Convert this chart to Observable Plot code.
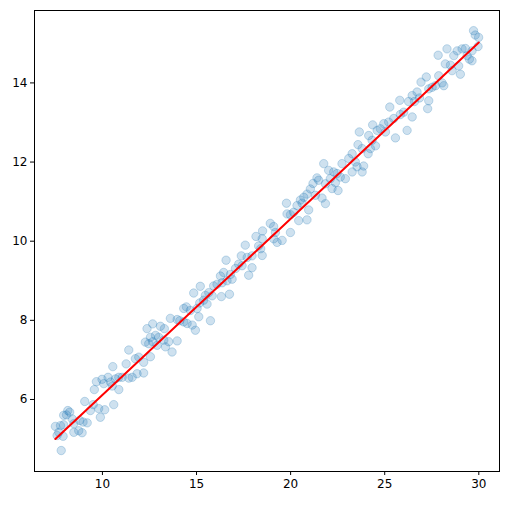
<!DOCTYPE html>
<html>
<head>
<meta charset="utf-8">
<script src="https://cdn.jsdelivr.net/npm/d3@7"></script>
<script src="https://cdn.jsdelivr.net/npm/@observablehq/plot@0.6"></script>
<style>
  html, body { margin: 0; padding: 0; background: #fff; }
  #chart svg { display: block; }
</style>
</head>
<body>
<div id="chart"></div>
<script>
// Scatter points (x values and matching y values)
const xValues = [
  9.68,9.57,9.06,9.51,9.36,9.80,8.16,8.26,8.09,7.94,8.39,7.50,7.77,7.94,8.48,8.79,8.97,9.19,7.68,7.59,7.91,8.48,8.74,8.92,7.81,
  12.37,12.67,12.55,12.28,12.46,12.67,11.40,11.93,11.75,12.19,11.26,10.55,12.19,11.84,11.58,11.40,11.05,10.87,10.69,10.30,9.98,10.07,10.43,10.52,10.87,10.60,10.12,9.89,
  15.20,14.85,15.47,15.38,15.17,14.46,14.32,15.03,14.67,15.12,13.61,13.97,14.11,14.32,14.50,14.77,14.94,13.08,13.29,12.82,12.99,13.26,13.52,13.97,12.91,13.35,13.70,12.55,
  18.16,18.51,17.59,18.30,17.38,17.69,17.95,16.57,17.24,17.42,17.07,17.95,17.77,16.44,16.27,16.80,16.89,16.62,16.36,16.09,15.91,15.65,15.83,16.32,16.75,15.56,15.74,
  21.40,21.19,21.05,20.87,20.70,20.52,19.78,20.61,20.34,20.96,20.16,19.81,19.99,20.43,20.87,18.92,19.10,19.19,19.99,18.49,19.10,19.28,19.55,18.41,18.49,
  24.36,23.65,24.15,23.58,23.80,24.12,23.27,23.09,22.73,23.44,23.53,23.88,23.80,23.27,21.76,22.02,22.29,22.47,21.49,22.11,22.64,22.91,22.38,21.85,22.20,22.52,21.32,21.67,21.85,
  27.21,26.93,27.34,26.72,26.46,26.85,26.58,26.27,25.80,25.27,27.28,26.01,25.83,26.46,25.48,25.21,24.95,24.77,24.60,25.04,26.19,25.57,24.33,24.51,24.24,
  29.72,29.81,29.99,29.96,27.84,28.31,28.85,29.11,29.29,29.64,29.50,29.64,29.38,28.67,28.22,28.49,28.93,28.58,29.02,27.87,28.05,27.70,27.52,28.14,27.34
];
const yValues = [
  6.45,6.25,5.95,5.87,5.72,5.77,5.72,5.68,5.61,5.60,5.51,5.32,5.34,5.36,5.39,5.47,5.43,5.41,5.17,5.09,5.07,5.17,5.21,5.16,4.71,
  7.79,7.91,7.57,7.45,7.41,7.46,7.25,7.07,7.03,6.94,6.90,6.83,6.67,6.65,6.56,6.54,6.56,6.56,6.52,6.56,6.51,6.40,6.44,6.34,6.25,5.87,5.74,5.55,
  8.86,8.69,8.63,8.51,8.44,8.34,8.30,8.30,8.25,8.09,8.05,8.02,7.99,7.96,7.92,7.88,7.75,7.85,7.79,7.62,7.57,7.50,7.46,7.48,7.37,7.33,7.20,7.08,
  10.12,10.26,9.90,9.88,9.63,9.59,9.63,9.52,9.42,9.38,9.31,9.33,9.14,9.21,9.12,9.16,9.04,9.00,8.95,8.91,8.87,8.70,8.62,8.60,8.66,8.41,7.99,
  11.60,11.46,11.32,11.19,11.11,11.04,10.96,10.96,10.90,10.79,10.73,10.69,10.67,10.52,10.54,10.45,10.37,10.22,10.22,10.06,10.06,9.97,10.02,9.81,9.64,
  12.94,12.76,12.67,12.44,12.34,12.21,12.21,12.09,11.96,12.00,11.88,11.90,11.75,11.75,11.96,11.79,11.75,11.71,11.54,11.58,11.62,11.58,11.48,11.45,11.33,11.28,11.16,11.09,10.95,
  14.15,14.02,13.85,13.77,13.68,13.62,13.53,13.53,13.56,13.39,13.35,13.26,13.20,13.14,13.10,13.01,12.97,12.84,12.80,12.76,12.80,12.61,12.55,12.41,12.34,
  15.32,15.21,15.15,14.92,14.70,14.86,14.81,14.86,14.87,14.81,14.60,14.56,14.69,14.69,14.48,14.45,14.43,14.31,14.22,14.18,14.00,13.93,13.89,13.93,13.55
];
// Fitted red line endpoints
const lineX = [7.5, 30.0];
const lineY = [5.0, 15.02];
// Tick labels
const xTicks = [10, 15, 20, 25, 30];
const yTicks = [6, 8, 10, 12, 14];

const points = xValues.map((x, i) => ({x, y: yValues[i]}));
const fitLine = lineX.map((x, i) => ({x, y: lineY[i]}));

const blue = "#1f77b4";
const chart = Plot.plot({
  width: 512,
  height: 505,
  marginLeft: 34,
  marginRight: 13,
  marginTop: 10,
  marginBottom: 34,
  style: {fontFamily: "DejaVu Sans, sans-serif", fontSize: "12px", color: "#000", background: "#fff"},
  x: {domain: [6.39, 31.1], ticks: xTicks, tickSize: 4, tickPadding: 4, label: null},
  y: {domain: [4.18, 15.83], ticks: yTicks, tickSize: 4, tickPadding: 3, label: null},
  marks: [
    Plot.dot(points, {x: "x", y: "y", r: 4.2, fill: blue, fillOpacity: 0.22, stroke: blue, strokeOpacity: 0.25, strokeWidth: 1}),
    Plot.line(fitLine, {x: "x", y: "y", stroke: "red", strokeWidth: 2}),
    Plot.frame({stroke: "#000", strokeWidth: 1})
  ]
});
document.getElementById("chart").appendChild(chart);
</script>
</body>
</html>
